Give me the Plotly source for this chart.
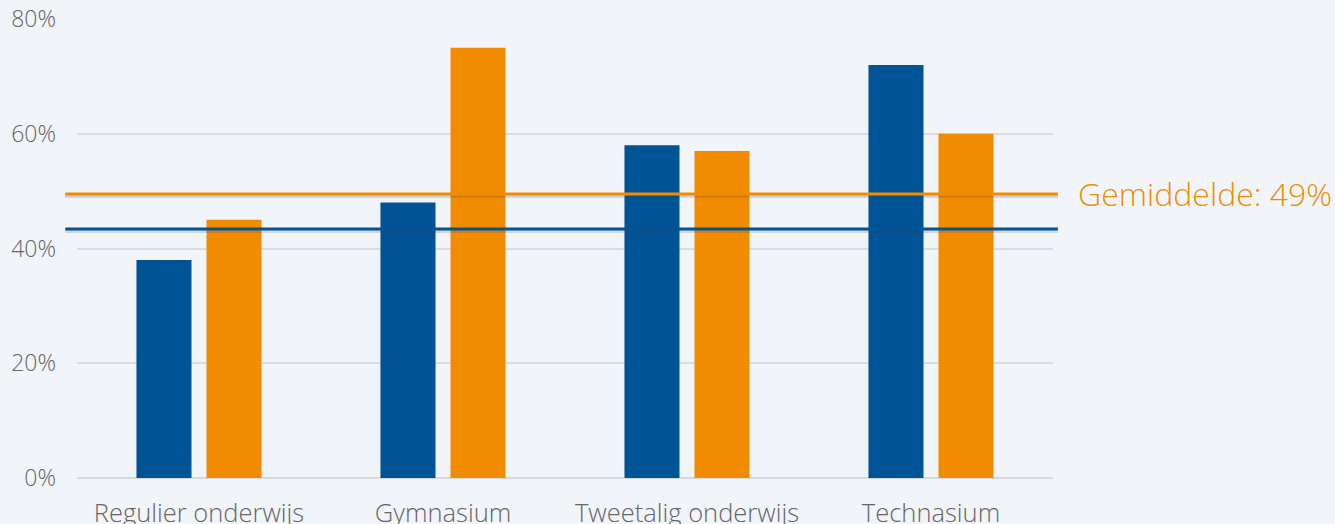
import plotly.graph_objects as go

categories = ["Regulier onderwijs", "Gymnasium", "Tweetalig onderwijs", "Technasium"]
series_blue = [38, 48, 58, 72]
series_orange = [45, 75, 57, 60]
avg_blue = 43.4
avg_orange = 49.5
avg_label = "Gemiddelde: 49%"
y_ticks = [0, 20, 40, 60, 80]
y_tick_labels = ["0%", "20%", "40%", "60%", "80%"]

BLUE = "#005394"
ORANGE = "#f18c00"
BG = "#f1f4f9"
FONT = "Open Sans"

fig = go.Figure()
fig.add_trace(go.Bar(x=categories, y=series_blue, marker=dict(color=BLUE, line=dict(width=0)), showlegend=False))
fig.add_trace(go.Bar(x=categories, y=series_orange, marker=dict(color=ORANGE, line=dict(width=0)), showlegend=False))

px = 80 / 459.0
shapes = []
for val, col in [(avg_orange, ORANGE), (avg_blue, BLUE)]:
    shapes.append(dict(type="line", xref="paper", yref="y", x0=-0.012, x1=1.005,
                       y0=val - 2.5 * px, y1=val - 2.5 * px,
                       line=dict(color="rgba(60,70,90,0.18)", width=3), layer="above"))
    shapes.append(dict(type="line", xref="paper", yref="y", x0=-0.012, x1=1.005,
                       y0=val, y1=val, line=dict(color=col, width=3), layer="above"))

fig.update_layout(
    width=1335, height=524,
    margin=dict(l=77, r=282, t=19, b=46),
    paper_bgcolor=BG, plot_bgcolor=BG,
    barmode="group", bargap=0.426, bargroupgap=0.214,
    font=dict(family=FONT, color="#666666", weight=300),
    shapes=shapes,
    xaxis=dict(showgrid=False, showline=False, zeroline=False, ticks="", automargin=False,
               tickfont=dict(size=25.5, color="#666666", weight=300), ticklabelstandoff=17),
    yaxis=dict(range=[0, 80], tickmode="array", tickvals=y_ticks, ticktext=y_tick_labels,
               automargin=False,
               showgrid=True, gridcolor="#dadcdf", gridwidth=1.5, zeroline=True,
               zerolinecolor="#d6d8db", zerolinewidth=1.5, showline=False, ticks="",
               tickfont=dict(size=23, color="#666666", weight=300), ticklabelstandoff=20),
    annotations=[dict(xref="paper", yref="y", x=1.024, y=avg_orange, text=avg_label,
                      showarrow=False, xanchor="left", yanchor="middle",
                      font=dict(size=32, color=ORANGE, family=FONT, weight=300))],
)
fig.write_html("out.html", config={"displayModeBar": False},
               post_script="document.body.style.margin='0';document.body.style.background='%s';" % BG)
